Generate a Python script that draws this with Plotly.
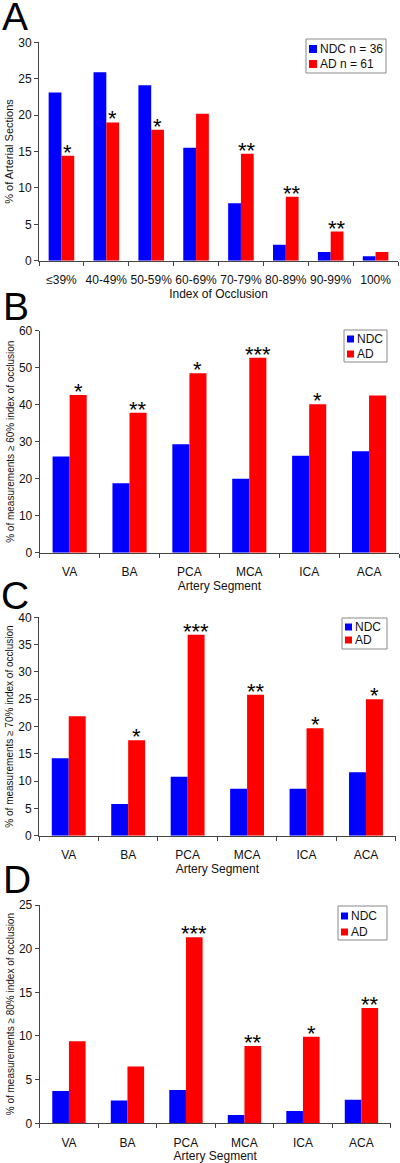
import plotly.graph_objects as go

# ---------------- data ----------------
occlusion_cats = ["≤39%", "40-49%", "50-59%", "60-69%", "70-79%", "80-89%", "90-99%", "100%"]
a_ndc = [23.1, 25.9, 24.1, 15.5, 7.9, 2.2, 1.2, 0.6]
a_ad = [14.4, 19.0, 18.0, 20.2, 14.7, 8.8, 4.0, 1.2]
a_sig = ["*", "*", "*", "", "**", "**", "**", ""]

artery_cats = ["VA", "BA", "PCA", "MCA", "ICA", "ACA"]
b_ndc = [26.0, 18.8, 29.3, 20.0, 26.2, 27.4]
b_ad = [42.6, 37.8, 48.5, 52.7, 40.1, 42.5]
b_sig = ["*", "**", "*", "***", "*", ""]

c_ndc = [14.2, 5.8, 10.8, 8.6, 8.6, 11.6]
c_ad = [21.9, 17.5, 36.8, 25.8, 19.7, 25.0]
c_sig = ["", "*", "***", "**", "*", "*"]

d_ndc = [3.7, 2.6, 3.8, 0.95, 1.4, 2.7]
d_ad = [9.4, 6.5, 21.3, 8.85, 9.9, 13.2]
d_sig = ["", "", "***", "**", "*", "**"]

a_legend = ["NDC n = 36", "AD n = 61"]
bcd_legend = ["NDC", "AD"]

# ---------------- style ----------------
W, H = 400, 1163
BLUE = "#0000FF"
RED = "#FF0000"
FONT = "Liberation Sans, Arial, sans-serif"
AXIS_COLOR = "#444444"
BARGAP = 0.43


def px_x(x):
    return x / W


def px_y(y):
    return 1 - y / H


panels = [
    dict(letter="A", cats=occlusion_cats, ndc=a_ndc, ad=a_ad, sig=a_sig, ymax=30,
         dtick=5, xdom=(39, 398), ydom=(42.3, 260.7),
         ytitle="% of Arterial Sections", ytsize=11, xtitle="Index of Occlusion",
         letter_pos=(1, 30), legend_labels=a_legend,
         legend_box=(306, 39, 386, 73), legend_rows=(49, 64), sq=8),
    dict(letter="B", cats=artery_cats, ndc=b_ndc, ad=b_ad, sig=b_sig, ymax=60,
         dtick=10, xdom=(39.7, 399), ydom=(330.7, 552.7),
         ytitle="% of measurements ≥ 60% index of occlusion", ytsize=10,
         xtitle="Artery Segment", letter_pos=(2, 320), legend_labels=bcd_legend,
         legend_box=(344, 330, 387, 362), legend_rows=(339, 354), sq=7),
    dict(letter="C", cats=artery_cats, ndc=c_ndc, ad=c_ad, sig=c_sig, ymax=40,
         dtick=5, xdom=(39, 395.7), ydom=(617.3, 835.7),
         ytitle="% of measurements ≥ 70% index of occlusion", ytsize=10,
         xtitle="Artery Segment", letter_pos=(0, 609), legend_labels=bcd_legend,
         legend_box=(342, 618, 387, 649), legend_rows=(627, 640), sq=7),
    dict(letter="D", cats=artery_cats, ndc=d_ndc, ad=d_ad, sig=d_sig, ymax=25,
         dtick=5, xdom=(39.7, 390.7), ydom=(905, 1123.3),
         ytitle="% of measurements ≥ 80% index of occlusion", ytsize=10,
         xtitle="Artery Segment", letter_pos=(2, 893), legend_labels=bcd_legend,
         legend_box=(338, 906, 387, 940), legend_rows=(916, 932), sq=7),
]

fig = go.Figure()
annotations = []
shapes = []
layout_axes = {}

for i, p in enumerate(panels):
    n = i + 1
    xa = "x" if n == 1 else f"x{n}"
    ya = "y" if n == 1 else f"y{n}"
    xkey = "xaxis" if n == 1 else f"xaxis{n}"
    ykey = "yaxis" if n == 1 else f"yaxis{n}"

    fig.add_trace(go.Bar(x=p["cats"], y=p["ndc"], name=p["legend_labels"][0],
                         marker=dict(color=BLUE, line=dict(width=0)),
                         xaxis=xa, yaxis=ya, showlegend=False))
    fig.add_trace(go.Bar(x=p["cats"], y=p["ad"], name=p["legend_labels"][1],
                         marker=dict(color=RED, line=dict(width=0)),
                         xaxis=xa, yaxis=ya, showlegend=False))

    layout_axes[xkey] = dict(
        domain=[px_x(p["xdom"][0]), px_x(p["xdom"][1])],
        anchor=ya, type="category", showline=True, linecolor=AXIS_COLOR,
        linewidth=1, ticks="outside", tickson="boundaries", ticklen=4,
        tickcolor=AXIS_COLOR, showgrid=False, automargin=False, tickangle=0,
        ticklabelstandoff=8,
        tickfont=dict(family=FONT, size=12, color="#111111"),
        title=dict(text=p["xtitle"], font=dict(family=FONT, size=12, color="#111111"),
                   standoff=3),
    )
    layout_axes[ykey] = dict(
        domain=[px_y(p["ydom"][1]), px_y(p["ydom"][0])],
        anchor=xa, range=[0, p["ymax"]], dtick=p["dtick"], showline=True,
        linecolor=AXIS_COLOR, linewidth=1, ticks="outside", ticklen=4,
        tickcolor=AXIS_COLOR, showgrid=False, zeroline=False, automargin=False,
        tickfont=dict(family=FONT, size=12, color="#111111"),
        title=dict(text=p["ytitle"], font=dict(family=FONT, size=p["ytsize"], color="#111111"),
                   standoff=2),
    )

    # significance stars above AD bars
    offset = (1 - BARGAP) / 4
    for j, s in enumerate(p["sig"]):
        if s:
            annotations.append(dict(
                x=j + offset, y=p["ad"][j], xref=xa, yref=ya, text=s,
                showarrow=False, yanchor="bottom", xanchor="center", yshift=-11,
                font=dict(family=FONT, size=22, color="#000000")))

    # panel letter (letter_pos = left edge, baseline in pixels)
    lx, ly = p["letter_pos"]
    annotations.append(dict(
        x=px_x(lx), y=px_y(ly + 9), xref="paper", yref="paper", text=p["letter"],
        showarrow=False, xanchor="left", yanchor="bottom", borderpad=0,
        font=dict(family=FONT, size=39, color="#000000")))

    # legend box
    x0, y0, x1, y1 = p["legend_box"]
    shapes.append(dict(type="rect", xref="paper", yref="paper",
                       x0=px_x(x0), x1=px_x(x1), y0=px_y(y1), y1=px_y(y0),
                       line=dict(color="#888888", width=1), fillcolor="white"))
    sq = p["sq"]
    for k, (lab, col) in enumerate(zip(p["legend_labels"], [BLUE, RED])):
        cy = p["legend_rows"][k]
        shapes.append(dict(type="rect", xref="paper", yref="paper",
                           x0=px_x(x0 + 3), x1=px_x(x0 + 3 + sq),
                           y0=px_y(cy + sq / 2), y1=px_y(cy - sq / 2),
                           line=dict(width=0), fillcolor=col))
        annotations.append(dict(
            x=px_x(x0 + 4 + sq), y=px_y(cy), xref="paper", yref="paper", text=lab,
            showarrow=False, xanchor="left", yanchor="middle",
            font=dict(family=FONT, size=12, color="#111111")))

fig.update_layout(
    width=W, height=H, autosize=False,
    margin=dict(l=0, r=0, t=0, b=0),
    paper_bgcolor="white", plot_bgcolor="white",
    barmode="group", bargap=BARGAP, bargroupgap=0,
    font=dict(family=FONT, size=12, color="#111111"),
    annotations=annotations, shapes=shapes,
    **layout_axes,
)

fig.write_html("out.html", config={"displayModeBar": False},
               post_script="document.body.style.margin='0';")
